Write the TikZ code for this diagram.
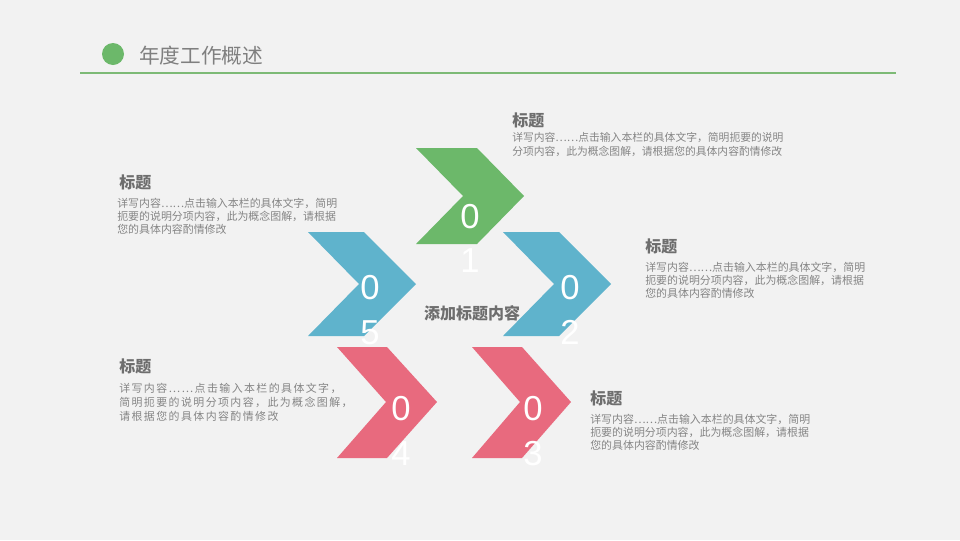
\documentclass[tikz,border=0pt]{standalone}
\usepackage{fontspec}
\setmainfont{Liberation Sans}
\newfontfamily\cjk{Noto Sans CJK SC}
\newfontfamily\cjkwide[LetterSpace=13]{Noto Sans CJK SC}
\newfontfamily\numfont{Liberation Sans}
\definecolor{bg}{HTML}{F2F2F2}
\definecolor{cgreen}{HTML}{6CB86A}
\definecolor{cblue}{HTML}{5FB3CC}
\definecolor{cred}{HTML}{E86A7E}
\definecolor{lgreen}{HTML}{7DBA76}
\definecolor{tgray}{HTML}{7F7F7F}
\definecolor{hgray}{HTML}{6E6E6E}
\definecolor{bgray}{HTML}{858585}
\tikzset{
  chev/.style={draw=none},
  numtxt/.style={text=white, align=center, inner sep=0pt, font=\numfont\fontsize{26}{33.5}\selectfont},
  blkhead/.style={anchor=west, inner sep=0pt, text=hgray, font=\cjk\bfseries\fontsize{12}{14}\selectfont},
  blkbody/.style={anchor=north west, inner sep=0pt, align=left, text=bgray, font=\cjk\fontsize{8.2}{9.6}\selectfont},
}
\begin{document}
\begin{tikzpicture}[x=0.75pt,y=-0.75pt]
\fill[bg] (0,0) rectangle (960,540);
\useasboundingbox (0,0) rectangle (960,540);
% header
\fill[cgreen] (113,54) circle (11);
\node[anchor=west, inner sep=0pt, text=tgray, font=\cjk\fontsize{15.5}{18}\selectfont] (title) at (139,56) {年度工作概述};
\coordinate (hl) at (80,73);
\coordinate (hr) at (896,73);
\draw[lgreen, line width=0.8pt] (hl) -- (hr);
% chevrons
\fill[cgreen] (416,148) -- (477,148) -- (524,196) -- (477,244) -- (416,244) -- (463,196) -- cycle;
\fill[cblue] (308,232) -- (364,232) -- (416,284) -- (364,336) -- (308,336) -- (359,284) -- cycle;
\fill[cblue] (503,232) -- (559,232) -- (611,284) -- (559,336) -- (503,336) -- (554,284) -- cycle;
\fill[cred] (337,347) -- (387,347) -- (437,402) -- (387,458) -- (337,458) -- (386,402) -- cycle;
\fill[cred] (472,347) -- (522,347) -- (571,402) -- (522,458) -- (472,458) -- (520,402) -- cycle;
% numbers
\node[numtxt] (n1) at (470,238.5) {0\\1};
\node[numtxt] (n5) at (370,310) {0\\5};
\node[numtxt] (n2) at (570,310) {0\\2};
\node[numtxt] (n4) at (401,431) {0\\4};
\node[numtxt] (n3) at (533,431) {0\\3};
% center
\node[inner sep=0pt, text=hgray, font=\cjk\bfseries\fontsize{12}{14}\selectfont] (center) at (472,313) {添加标题内容};
% block 1
\node[blkhead] (h1) at (512,120) {标题};
\node[blkbody, font=\cjk\fontsize{8.1}{10.5}\selectfont] (b1) at (512,132) {详写内容……点击输入本栏的具体文字，简明扼要的说明\\分项内容，此为概念图解，请根据您的具体内容酌情修改};
% block 5
\node[blkhead] (h5) at (119,182) {标题};
\node[blkbody] (b5) at (117,198) {详写内容……点击输入本栏的具体文字，简明\\扼要的说明分项内容，此为概念图解，请根据\\您的具体内容酌情修改};
% block 2
\node[blkhead] (h2) at (645,246) {标题};
\node[blkbody] (b2) at (645,262) {详写内容……点击输入本栏的具体文字，简明\\扼要的说明分项内容，此为概念图解，请根据\\您的具体内容酌情修改};
% block 4
\node[blkhead] (h4) at (119,366) {标题};
\node[blkbody, font=\cjkwide\fontsize{8.2}{10.5}\selectfont] (b4) at (119,383) {详写内容……点击输入本栏的具体文字，\\简明扼要的说明分项内容，此为概念图解，\\请根据您的具体内容酌情修改};
% block 3
\node[blkhead] (h3) at (590,398) {标题};
\node[blkbody] (b3) at (590,414) {详写内容……点击输入本栏的具体文字，简明\\扼要的说明分项内容，此为概念图解，请根据\\您的具体内容酌情修改};
\end{tikzpicture}
\end{document}
